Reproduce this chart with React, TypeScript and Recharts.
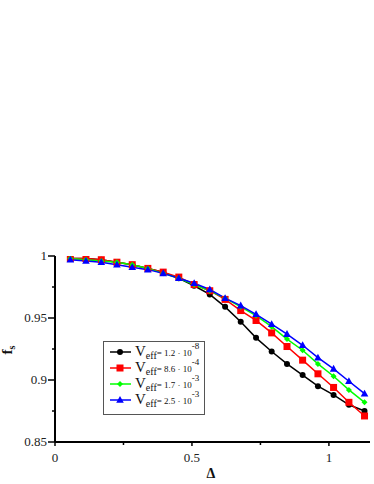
import React from 'react';
import { LineChart, Line, XAxis, YAxis, Legend } from 'recharts';

// Δ values (x)
const delta = [0.056, 0.113, 0.169, 0.226, 0.282, 0.339, 0.395, 0.452, 0.508, 0.565,
    0.621, 0.678, 0.734, 0.791, 0.847, 0.904, 0.960, 1.017, 1.073, 1.130];

// f_s for each V_eff
const fsA = [0.998, 0.998, 0.997, 0.995, 0.993, 0.990, 0.987, 0.982, 0.976, 0.969,
    0.959, 0.947, 0.934, 0.923, 0.913, 0.904, 0.895, 0.888, 0.880, 0.875];
const fsB = [0.998, 0.998, 0.997, 0.995, 0.993, 0.990, 0.987, 0.983, 0.977, 0.972,
    0.965, 0.956, 0.948, 0.938, 0.927, 0.916, 0.905, 0.894, 0.882, 0.871];
const fsC = [0.998, 0.997, 0.996, 0.995, 0.993, 0.990, 0.986, 0.982, 0.977, 0.972,
    0.966, 0.959, 0.952, 0.943, 0.933, 0.924, 0.913, 0.903, 0.892, 0.882];
const fsD = [0.997, 0.996, 0.995, 0.993, 0.991, 0.989, 0.986, 0.982, 0.978, 0.973,
    0.966, 0.960, 0.953, 0.945, 0.937, 0.928, 0.918, 0.909, 0.899, 0.889];

const xTicks = [0, 0.25, 0.5, 0.75, 1];
const xLabels: Record<string, string> = { '0': '0', '0.5': '0.5', '1': '1' };
const yTicks = [0.85, 0.875, 0.9, 0.925, 0.95, 0.975, 1];
const yLabels: Record<string, string> = { '0.85': '0.85', '0.9': '0.9', '0.95': '0.95', '1': '1' };

const seriesMant = ['1.2', '8.6', '1.7', '2.5'];
const seriesExp = ['-8', '-4', '-3', '-3'];

const data = delta.map((d, i) => ({ delta: d, a: fsA[i], b: fsB[i], c: fsC[i], d: fsD[i] }));

const FONT = '"Liberation Serif", "Times New Roman", serif';

const Marker = ({ kind, cx, cy, color }: { kind: string; cx: number; cy: number; color: string }) => {
    if (kind === 'circle') return <circle cx={cx} cy={cy} r={3} fill={color} />;
    if (kind === 'square') return <rect x={cx - 3.5} y={cy - 3.5} width={7} height={7} fill={color} />;
    if (kind === 'diamond') return <path d={`M${cx},${cy - 3}L${cx + 3},${cy}L${cx},${cy + 3}L${cx - 3},${cy}Z`} fill={color} />;
    return <path d={`M${cx},${cy - 4}L${cx + 3.8},${cy + 2.8}L${cx - 3.8},${cy + 2.8}Z`} fill={color} />;
};

const dotFor = (kind: string, color: string) => (props: any) => {
    const { cx, cy, index } = props;
    if (cx == null || cy == null) return <g key={index} />;
    return <Marker key={index} kind={kind} cx={cx} cy={cy} color={color} />;
};

const YTick = (props: any) => {
    const { x, y, payload } = props;
    const label = yLabels[String(payload.value)];
    const len = label ? 7 : 3;
    return (
        <g>
            <line x1={x - len} y1={y} x2={x} y2={y} stroke="#000" strokeWidth={1.5} />
            {label && (
                <text x={x - 8} y={y + 4} textAnchor="end" fontSize={13} fill="#222" fontFamily={FONT}>{label}</text>
            )}
        </g>
    );
};

const XTick = (props: any) => {
    const { x, y, payload } = props;
    const label = xLabels[String(payload.value)];
    const len = label ? 4 : 3;
    return (
        <g>
            <line x1={x} y1={y} x2={x} y2={y + len} stroke="#000" strokeWidth={1.5} />
            {label && (
                <text x={x} y={y + 20} textAnchor="middle" fontSize={13} fill="#222" fontFamily={FONT}>{label}</text>
            )}
        </g>
    );
};

const legendRows = [
    { kind: 'circle', color: '#000000' },
    { kind: 'square', color: '#ff0000' },
    { kind: 'diamond', color: '#00ff00' },
    { kind: 'triangle', color: '#0000ff' },
];

const renderLegend = () => (
    <svg width={102} height={74} style={{ display: 'block' }}>
        <rect x={0.5} y={0.5} width={101} height={73} fill="#fff" stroke="#555" strokeWidth={1} />
        {legendRows.map((r, i) => {
            const cy = 11 + i * 16;
            return (
                <g key={i}>
                    <line x1={7} y1={cy} x2={28} y2={cy} stroke={r.color} strokeWidth={1.5} />
                    <Marker kind={r.kind} cx={17} cy={cy} color={r.color} />
                    <text x={32} y={cy + 4} fontFamily={FONT} fill="#111">
                        <tspan fontSize={15}>V</tspan>
                        <tspan fontSize={10} dy={3}>eff</tspan>
                        <tspan fontSize={9} dy={-3}>{'= ' + seriesMant[i] + ' · 10'}</tspan>
                        <tspan fontSize={9} dy={-7}>{seriesExp[i]}</tspan>
                    </text>
                </g>
            );
        })}
    </svg>
);

const App: React.FC = () => {
    return (
        <div style={{ position: 'absolute', left: 0, top: 0, width: 374, height: 484, background: '#fff' }}>
            <LineChart
                width={374}
                height={484}
                data={data}
                margin={{ top: 256, right: 4, left: 0, bottom: 0 }}
            >
                <XAxis
                    type="number"
                    dataKey="delta"
                    domain={[0, 1.15]}
                    ticks={xTicks}
                    allowDataOverflow
                    height={42}
                    tickSize={0}
                    tickMargin={0}
                    tickLine={false}
                    axisLine={{ stroke: '#000', strokeWidth: 2 }}
                    tick={<XTick />}
                    interval={0}
                />
                <YAxis
                    type="number"
                    domain={[0.85, 1]}
                    ticks={yTicks}
                    allowDataOverflow
                    width={55}
                    tickSize={0}
                    tickMargin={0}
                    tickLine={false}
                    axisLine={{ stroke: '#000', strokeWidth: 2 }}
                    tick={<YTick />}
                    interval={0}
                />
                <Legend
                    layout="vertical"
                    align="center"
                    verticalAlign="middle"
                    content={renderLegend}
                    wrapperStyle={{ position: 'absolute', left: 103, top: 341, width: 102, height: 74 }}
                />
                <Line type="linear" dataKey="a" stroke="#000000" strokeWidth={1.5} dot={dotFor('circle', '#000000')} isAnimationActive={false} />
                <Line type="linear" dataKey="b" stroke="#ff0000" strokeWidth={1.5} dot={dotFor('square', '#ff0000')} isAnimationActive={false} />
                <Line type="linear" dataKey="c" stroke="#00ff00" strokeWidth={1.5} dot={dotFor('diamond', '#00ff00')} isAnimationActive={false} />
                <Line type="linear" dataKey="d" stroke="#0000ff" strokeWidth={1.5} dot={dotFor('triangle', '#0000ff')} isAnimationActive={false} />
                <text x={12} y={350} transform="rotate(-90 12 350)" textAnchor="middle" fontFamily={FONT} fontWeight="bold" fontSize={15} fill="#111">
                    f<tspan fontSize={10} dy={3}>s</tspan>
                </text>
                <text x={211} y={478} textAnchor="middle" fontFamily={FONT} fontWeight="bold" fontSize={14} fill="#111">Δ</text>
            </LineChart>
        </div>
    );
};

export default App;
